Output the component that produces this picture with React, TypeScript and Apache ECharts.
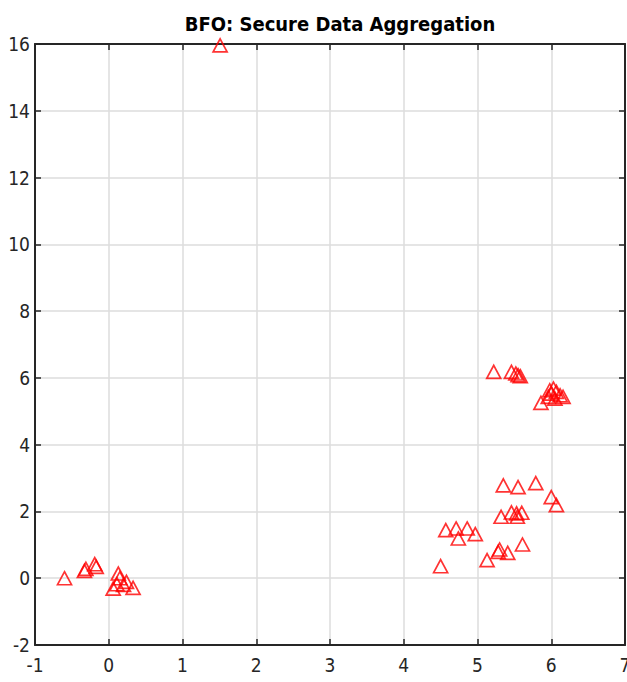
import React, { useEffect, useRef } from "react";
import * as echarts from "echarts";

const TITLE = "BFO: Secure Data Aggregation";
const X_TICKS_MIN = -1;
const X_TICKS_MAX = 7;
const Y_TICKS_MIN = -2;
const Y_TICKS_MAX = 16;

const nodeX = [
  -0.6, -0.33, -0.31, -0.19, -0.17, 0.13, 0.15, 0.24, 0.33, 0.06, 0.11, 0.2,
  4.5, 5.13, 5.28, 5.3, 5.41, 5.61, 4.57, 4.71, 4.86, 4.74, 4.97, 5.32, 5.46, 5.54, 5.6, 5.53,
  5.35, 5.55, 5.79, 6.0, 6.07,
  5.22, 5.46, 5.52, 5.55, 5.58, 5.86, 5.98, 6.03, 6.07, 6.12, 6.16, 5.96, 6.05, 6.0,
  1.51,
];
const nodeY = [
  0.0, 0.22, 0.28, 0.42, 0.34, 0.14, 0.0, -0.11, -0.29, -0.31, -0.18, -0.2,
  0.36, 0.54, 0.79, 0.86, 0.76, 1.01, 1.44, 1.49, 1.49, 1.19, 1.32, 1.84, 1.97, 1.84, 1.96, 1.94,
  2.78, 2.73, 2.85, 2.43, 2.19,
  6.18, 6.18, 6.13, 6.08, 6.05, 5.25, 5.63, 5.68, 5.58, 5.48, 5.43, 5.43, 5.38, 5.53,
  15.96,
];

export default function App() {
  const ref = useRef<HTMLDivElement>(null);
  useEffect(() => {
    if (!ref.current) return;
    document.body.style.margin = "0";
    document.body.style.overflow = "hidden";
    const chart = echarts.init(ref.current, undefined, { renderer: "svg" });
    const font = "'DejaVu Sans Condensed', 'Liberation Sans Narrow', 'Liberation Sans', Arial, sans-serif";
    const axisLine = { show: true, onZero: false, lineStyle: { color: "#262626", width: 2 } };
    const tick = { show: true, inside: true, length: 6, lineStyle: { color: "#262626", width: 1.5 } };
    const data = nodeX.map((x, i) => [x, nodeY[i]]);
    chart.setOption({
      animation: false,
      backgroundColor: "#ffffff",
      title: {
        text: TITLE,
        left: 335,
        textAlign: "center",
        top: 9,
        textStyle: { fontFamily: font, fontWeight: "bold", fontSize: 20, color: "#000" },
      },
      grid: { left: 35, right: 2, top: 44, bottom: 37, containLabel: false, outerBoundsMode: "none" },
      xAxis: [
        {
          type: "value",
          min: X_TICKS_MIN,
          max: X_TICKS_MAX,
          interval: 1,
          position: "bottom",
          axisLine,
          axisTick: tick,
          axisLabel: { fontFamily: font, fontSize: 19, color: "#262626", margin: 10 },
          splitLine: { show: true, lineStyle: { color: "#dcdcdc", width: 1.5 } },
        },
        {
          type: "value",
          min: X_TICKS_MIN,
          max: X_TICKS_MAX,
          interval: 1,
          position: "top",
          axisLine,
          axisTick: tick,
          axisLabel: { show: false },
          splitLine: { show: false },
        },
      ],
      yAxis: [
        {
          type: "value",
          min: Y_TICKS_MIN,
          max: Y_TICKS_MAX,
          interval: 2,
          position: "left",
          axisLine,
          axisTick: tick,
          axisLabel: { fontFamily: font, fontSize: 19, color: "#262626", margin: 5 },
          splitLine: { show: true, lineStyle: { color: "#dcdcdc", width: 1.5 } },
        },
        {
          type: "value",
          min: Y_TICKS_MIN,
          max: Y_TICKS_MAX,
          interval: 2,
          position: "right",
          axisLine,
          axisTick: tick,
          axisLabel: { show: false },
          splitLine: { show: false },
        },
      ],
      series: [
        {
          type: "scatter",
          xAxisIndex: 0,
          yAxisIndex: 0,
          data,
          symbol: "triangle",
          symbolSize: [14, 13],
          itemStyle: { color: "rgba(255,255,255,0)", borderColor: "#ff0000", borderWidth: 1.7 },
          clip: false,
        },
      ],
    });
    return () => chart.dispose();
  }, []);
  return <div ref={ref} style={{ position: "absolute", left: 0, top: 0, width: 627, height: 682 }} />;
}
